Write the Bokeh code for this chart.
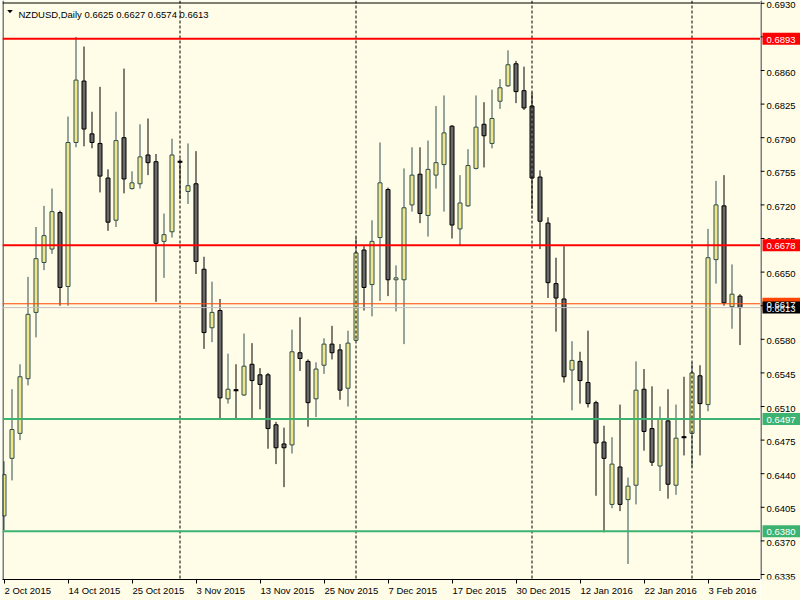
from bokeh.plotting import figure
from bokeh.layouts import row
from bokeh.models import (Range1d, FixedTicker, Span, Label, LinearAxis,
                          ColumnDataSource, PolyAnnotation)
from bokeh.core.properties import value
from bokeh.embed import file_html
from bokeh.resources import INLINE

# ---------------- data ----------------
symbol = "NZDUSD"
timeframe = "Daily"

opens = [0.6396, 0.6456, 0.6482, 0.6539, 0.6608, 0.6660, 0.6674, 0.6712, 0.6635, 0.6785,
         0.6849, 0.6794, 0.6784, 0.6748, 0.6704, 0.6790, 0.6737, 0.6742, 0.6772, 0.6765,
         0.6682, 0.6692, 0.6765, 0.6734, 0.6742, 0.6653, 0.6592, 0.6610, 0.6518, 0.6527,
         0.6522, 0.6554, 0.6543, 0.6543, 0.6491, 0.6471, 0.6470, 0.6566, 0.6557, 0.6518,
         0.6553, 0.6575, 0.6569, 0.6529, 0.6579, 0.6673, 0.6637, 0.6686, 0.6736, 0.6642,
         0.6642, 0.6720, 0.6752, 0.6709, 0.6751, 0.6762, 0.6802, 0.6695, 0.6719, 0.6758,
         0.6804, 0.6784, 0.6828, 0.6844, 0.6867, 0.6839, 0.6823, 0.6749, 0.6701, 0.6638,
         0.6622, 0.6548, 0.6557, 0.6535, 0.6514, 0.6473, 0.6408, 0.6447, 0.6413, 0.6428,
         0.6528, 0.6487, 0.6448, 0.6495, 0.6428, 0.6478, 0.6482, 0.6542, 0.6512, 0.6663,
         0.6719, 0.6614, 0.6625]
highs = [0.6453, 0.6528, 0.6554, 0.6645, 0.6697, 0.6719, 0.6737, 0.6714, 0.6812, 0.6895,
         0.6885, 0.6817, 0.6843, 0.6757, 0.6817, 0.6862, 0.6755, 0.6804, 0.6810, 0.6773,
         0.6711, 0.6789, 0.6768, 0.6784, 0.6776, 0.6666, 0.6640, 0.6622, 0.6565, 0.6554,
         0.6586, 0.6576, 0.6550, 0.6545, 0.6494, 0.6488, 0.6590, 0.6603, 0.6559, 0.6556,
         0.6581, 0.6594, 0.6575, 0.6589, 0.6686, 0.6677, 0.6704, 0.6785, 0.6738, 0.6657,
         0.6758, 0.6780, 0.6780, 0.6787, 0.6823, 0.6834, 0.6803, 0.6751, 0.6778, 0.6834,
         0.6827, 0.6840, 0.6851, 0.6881, 0.6870, 0.6864, 0.6837, 0.6756, 0.6707, 0.6665,
         0.6677, 0.6578, 0.6567, 0.6589, 0.6516, 0.6490, 0.6478, 0.6512, 0.6436, 0.6557,
         0.6549, 0.6531, 0.6510, 0.6528, 0.6512, 0.6541, 0.6556, 0.6553, 0.6695, 0.6745,
         0.6751, 0.6658, 0.6627]
lows = [0.6381, 0.6433, 0.6475, 0.6532, 0.6582, 0.6652, 0.6669, 0.6615, 0.6615, 0.6780,
        0.6781, 0.6779, 0.6733, 0.6693, 0.6697, 0.6732, 0.6736, 0.6737, 0.6751, 0.6619,
        0.6644, 0.6686, 0.6726, 0.6721, 0.6648, 0.6570, 0.6577, 0.6497, 0.6513, 0.6497,
        0.6521, 0.6497, 0.6507, 0.6466, 0.6450, 0.6426, 0.6461, 0.6547, 0.6489, 0.6499,
        0.6544, 0.6559, 0.6517, 0.6510, 0.6578, 0.6610, 0.6604, 0.6620, 0.6625, 0.6609,
        0.6575, 0.6713, 0.6701, 0.6687, 0.6737, 0.6713, 0.6685, 0.6678, 0.6718, 0.6757,
        0.6759, 0.6779, 0.6820, 0.6843, 0.6826, 0.6819, 0.6716, 0.6674, 0.6623, 0.6588,
        0.6535, 0.6506, 0.6513, 0.6509, 0.6417, 0.6379, 0.6404, 0.6401, 0.6346, 0.6408,
        0.6464, 0.6448, 0.6422, 0.6414, 0.6418, 0.6459, 0.6447, 0.6459, 0.6505, 0.6638,
        0.6615, 0.6591, 0.6574]
closes = [0.6439, 0.6486, 0.6541, 0.6606, 0.6664, 0.6688, 0.6713, 0.6634, 0.6785, 0.6850,
          0.6799, 0.6785, 0.6750, 0.6702, 0.6787, 0.6747, 0.6743, 0.6770, 0.6764, 0.6680,
          0.6689, 0.6772, 0.6765, 0.6740, 0.6661, 0.6587, 0.6608, 0.6519, 0.6528, 0.6527,
          0.6552, 0.6537, 0.6533, 0.6487, 0.6467, 0.6467, 0.6567, 0.6560, 0.6514, 0.6549,
          0.6575, 0.6566, 0.6527, 0.6576, 0.6670, 0.6634, 0.6682, 0.6743, 0.6642, 0.6644,
          0.6717, 0.6751, 0.6711, 0.6757, 0.6764, 0.6795, 0.6699, 0.6722, 0.6761, 0.6801,
          0.6792, 0.6810, 0.6842, 0.6866, 0.6838, 0.6821, 0.6748, 0.6703, 0.6639, 0.6623,
          0.6541, 0.6558, 0.6537, 0.6513, 0.6472, 0.6456, 0.6450, 0.6408, 0.6427, 0.6527,
          0.6484, 0.6452, 0.6497, 0.6429, 0.6477, 0.6478, 0.6545, 0.6513, 0.6665, 0.6720,
          0.6618, 0.6627, 0.6613]

date_labels = ["2 Oct 2015", "14 Oct 2015", "25 Oct 2015", "3 Nov 2015", "13 Nov 2015",
               "25 Nov 2015", "7 Dec 2015", "17 Dec 2015", "30 Dec 2015", "12 Jan 2016",
               "22 Jan 2016", "3 Feb 2016"]
date_label_bars = [0, 8, 16, 24, 32, 40, 48, 56, 64, 72, 80, 88]
separator_bars = [22, 44, 66, 86]
price_ticks = [0.6335, 0.6370, 0.6405, 0.6440, 0.6475, 0.6510, 0.6545, 0.6580, 0.6615,
               0.6650, 0.6685, 0.6720, 0.6755, 0.6790, 0.6825, 0.6860, 0.6895, 0.6930]
resistance_levels = [0.6893, 0.6678]
support_levels = [0.6497, 0.6380]
ask_price = 0.6617
bid_price = closes[-1]

# ---------------- style ----------------
BG = "#FFFDE8"
FONT = "Liberation Sans"
FS = 9.5
FSIZE = f"{FS}px"
RED, GREEN, ORANGE = "#FF0000", "#3CB371", "#FF4500"
BULL_FILL, BULL_EDGE = "#F0E68C", "#2F4F4F"
BEAR_FILL, BEAR_EDGE = "#696969", "#000000"
PX_PER_BAR = 8.0
PX_PER_PRICE = 9600.0

W, H = 800, 600
SCALE_W = 40                      # width of the price scale strip
CW = W - SCALE_W                  # chart width
FL, FT, FB = 2, 0, 21             # chart frame borders
x_start = -0.1875
x_end = x_start + (CW - FL) / PX_PER_BAR
y_end = 0.6930 + 2.8 / PX_PER_PRICE
y_start = y_end - (H - FT - FB) / PX_PER_PRICE

# Arial/Liberation advance widths (1/1000 em) for the date label glyphs
ADV = {" ": 278, "O": 778, "N": 722, "D": 722, "J": 500, "F": 611, "c": 500, "t": 278,
       "o": 556, "v": 500, "e": 556, "a": 556, "n": 556, "b": 556}


def text_px(s):
    return sum(ADV.get(ch, 556) for ch in s) * FS / 1000.0


def sx(px):  # chart px -> data x
    return x_start + (px - FL) / PX_PER_BAR


def sy(py):  # chart px -> data y
    return y_end - (py - FT) / PX_PER_PRICE


yr = Range1d(y_start, y_end)

# ================= chart =================
p = figure(width=CW, height=H, x_range=Range1d(x_start, x_end), y_range=yr,
           toolbar_location=None, output_backend="svg",
           min_border_left=FL, min_border_right=0, min_border_top=FT, min_border_bottom=FB,
           background_fill_color=BG, border_fill_color=BG, outline_line_color=None)
p.xgrid.visible = False
p.ygrid.visible = False
p.yaxis.visible = False

# chart border (left and top)
p.add_layout(Span(location=sx(2.5), dimension="height", line_color="black", line_width=1))
p.add_layout(Span(location=sy(2.5), dimension="width", line_color="black", line_width=1))

# tick marks of the time scale
xa = p.xaxis[0]
xa.ticker = FixedTicker(ticks=date_label_bars)
xa.major_label_overrides = {b: "" for b in date_label_bars}
xa.major_label_text_font_size = "0px"
xa.major_label_standoff = 0
xa.major_tick_out = 4
xa.major_tick_in = 0
xa.minor_tick_out = 0
xa.minor_tick_in = 0
xa.axis_line_color = "black"
xa.major_tick_line_color = "black"

# date labels, written to the right of their tick
label_pos = [round(b + (0.5 + text_px(t) / 2.0) / PX_PER_BAR, 4)
             for b, t in zip(date_label_bars, date_labels)]
xa2 = LinearAxis(ticker=FixedTicker(ticks=label_pos),
                 major_label_overrides={pos: t for pos, t in zip(label_pos, date_labels)},
                 major_tick_out=0, major_tick_in=0, minor_tick_out=0, minor_tick_in=0,
                 axis_line_color=None, major_label_standoff=1,
                 major_label_text_font=FONT, major_label_text_font_size=FSIZE,
                 major_label_text_color="black")
p.add_layout(xa2, "below")

# period separators
for b in separator_bars:
    p.add_layout(Span(location=b, dimension="height", line_color="black",
                      line_width=1, line_dash="3 2"))

# level lines
for lvl in resistance_levels:
    p.add_layout(Span(location=lvl, dimension="width", line_color=RED, line_width=2))
for lvl in support_levels:
    p.add_layout(Span(location=lvl, dimension="width", line_color=GREEN, line_width=2))
p.add_layout(Span(location=ask_price, dimension="width", line_color=ORANGE, line_width=1))
p.add_layout(Span(location=bid_price, dimension="width", line_color="#C0C0C0", line_width=1))

# candles
n = len(opens)
xs = list(range(n))
bull = [c > o for o, c in zip(opens, closes)]
src = ColumnDataSource(dict(
    x=xs, open=opens, high=highs, low=lows, close=closes,
    top=[max(o, c) for o, c in zip(opens, closes)],
    bottom=[min(o, c) for o, c in zip(opens, closes)],
    fill=[BULL_FILL if b else BEAR_FILL for b in bull],
    edge=[BULL_EDGE if b else BEAR_EDGE for b in bull],
))
p.segment(x0="x", y0="low", x1="x", y1="high", line_color="edge", line_width=1, source=src)
p.vbar(x="x", width=0.5, top="top", bottom="bottom", fill_color="fill",
       line_color="edge", line_width=1, source=src)

doji = [i for i in xs if opens[i] == closes[i]]
p.segment(x0=[i - 0.3 for i in doji], x1=[i + 0.3 for i in doji],
          y0=[opens[i] for i in doji], y1=[opens[i] for i in doji],
          line_color="black", line_width=2)

# header
header = f"{symbol},{timeframe}  {opens[-1]:.4f} {highs[-1]:.4f} {lows[-1]:.4f} {closes[-1]:.4f}"
p.add_layout(Label(x=sx(18), y=sy(14), text=header, text_font=FONT, text_font_size=FSIZE,
                   text_color="black", text_align="left", text_baseline="alphabetic"))
p.add_layout(PolyAnnotation(xs=[sx(6.7), sx(12.3), sx(9.5)], ys=[sy(9.5), sy(9.5), sy(12.7)],
                            fill_color="black", fill_alpha=1, line_color=None))

# ================= price scale =================
s = figure(width=SCALE_W, height=H, x_range=Range1d(0, SCALE_W), y_range=yr,
           toolbar_location=None, output_backend="svg",
           min_border_left=0, min_border_right=0, min_border_top=FT, min_border_bottom=FB,
           background_fill_color=BG, border_fill_color=BG, outline_line_color=None)
s.axis.visible = False
s.grid.visible = False

# scale line and ticks
s.segment(x0=[0.5], x1=[0.5], y0=[y_start], y1=[y_end], line_color="black", line_width=1)
s.segment(x0=[0] * len(price_ticks), x1=[4] * len(price_ticks), y0=price_ticks, y1=price_ticks,
          line_color="black", line_width=1)
s.text(x=[6] * len(price_ticks), y=price_ticks, text=[f"{t:.4f}" for t in price_ticks],
       text_font=value(FONT), text_font_size=value(FSIZE), text_color="black",
       text_align="left", text_baseline="middle", y_offset=2)

# price labels (ask below bid so the bid label sits on top)
lab_prices = resistance_levels + support_levels + [ask_price, bid_price]
lab_colors = [RED] * len(resistance_levels) + [GREEN] * len(support_levels) + [ORANGE, "#000000"]
s.rect(x=[21] * len(lab_prices), y=lab_prices, width=38, height=12, height_units="screen",
       fill_color=lab_colors, line_color=None)
s.text(x=[6] * len(lab_prices), y=lab_prices, text=[f"{v:.4f}" for v in lab_prices],
       text_font=value(FONT), text_font_size=value(FSIZE), text_color="white",
       text_align="left", text_baseline="middle", y_offset=1)

layout = row(p, s, spacing=0)
open("out.html", "w").write(file_html(layout, INLINE))
